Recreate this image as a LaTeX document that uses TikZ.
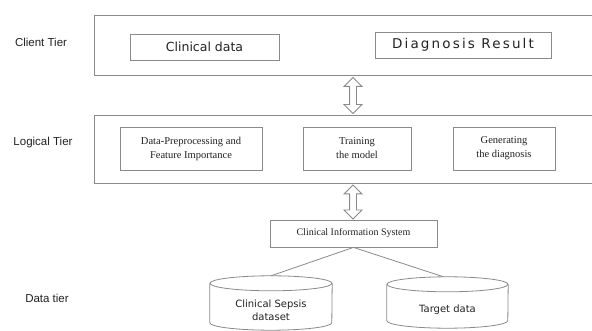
\documentclass[tikz,border=0pt]{standalone}
\usepackage{fontspec}
\setmainfont{Liberation Serif}
\newfontfamily\lab{Liberation Sans}
\newfontfamily\dv{DejaVu Sans}
\newfontfamily\dvsp[LetterSpace=16]{DejaVu Sans}
\usetikzlibrary{shapes.arrows}
\definecolor{ln}{HTML}{8A8A8A}
\definecolor{tx}{HTML}{222222}
\begin{document}
\begin{tikzpicture}[x=1pt,y=1pt,
  box/.style={draw=ln, line width=0.8pt, fill=white, inner sep=0pt, text=tx, align=center},
  tierlbl/.style={font=\lab\fontsize{11.5}{13}\selectfont, text=tx},
  serifbox/.style={box, font=\fontsize{10.5}{14}\selectfont},
  cylbody/.style={inner sep=0pt, text=tx, align=center, font=\dv\fontsize{10}{13}\selectfont},
  cylline/.style={draw=ln, line width=0.8pt},
  conn/.style={draw=ln, line width=0.8pt},
  dbl/.style={double arrow, draw=ln, line width=0.8pt, fill=white, inner sep=3pt,
    double arrow head extend=5.5pt, minimum height=36pt, shape border rotate=90}
]
\clip (0,0) rectangle (592,-331);
\fill[white] (0,0) rectangle (592,-331);

% tier labels
\node[tierlbl] (lclient) at (41,-42) {Client Tier};
\node[tierlbl] (llogic) at (43,-143) {Logical Tier};
\node[tierlbl] (ldata) at (47,-298) {Data tier};

% client tier
\node[box, minimum width=504pt, minimum height=60pt] (client) at (346,-45) {};
\node[box, minimum width=149pt, minimum height=26pt, font=\dv\fontsize{12.5}{14}\selectfont] (cdata) at (204.5,-47) {Clinical data};
\node[box, minimum width=176pt, minimum height=26pt, font=\dvsp\fontsize{13.5}{15}\selectfont] (diag) at (463,-45) {Diagnosis Result};

% logical tier
\node[box, minimum width=504pt, minimum height=68pt] (logic) at (346,-149) {};
\node[serifbox, minimum width=142pt, minimum height=43pt] (prep) at (191,-148.5) {Data-Preprocessing and\\Feature Importance};
\node[serifbox, minimum width=108pt, minimum height=43pt] (train) at (357,-148.5) {Training\\the model};
\node[serifbox, minimum width=102pt, minimum height=43pt] (gen) at (504,-148.5) {Generating\\the diagnosis};

% arrows between tiers
\node[dbl] (ar1) at (353,-95.5) {};
\node[dbl, minimum height=34pt] (ar2) at (353,-202) {};

% data tier
\node[box, minimum width=167pt, minimum height=27pt, font=\fontsize{10}{12}\selectfont] (cis) at (353.5,-233.5) {Clinical Information System};

\node[cylbody, minimum width=122pt, minimum height=39pt] (cyl1) at (271,-310.5) {Clinical Sepsis\\dataset};
\draw[cylline] ([yshift=7.5pt]cyl1.north) ellipse [x radius=61pt, y radius=7.5pt];
\draw[cylline] ([yshift=7.5pt]cyl1.north west) -- ([yshift=7.5pt]cyl1.south west)
  arc[start angle=180, end angle=360, x radius=61pt, y radius=7.5pt] -- ([yshift=7.5pt]cyl1.north east);

\node[cylbody, minimum width=121pt, minimum height=36pt] (cyl2) at (447.5,-310) {Target data};
\draw[cylline] ([yshift=7.5pt]cyl2.north) ellipse [x radius=60.5pt, y radius=7.5pt];
\draw[cylline] ([yshift=7.5pt]cyl2.north west) -- ([yshift=7.5pt]cyl2.south west)
  arc[start angle=180, end angle=360, x radius=60.5pt, y radius=7.5pt] -- ([yshift=7.5pt]cyl2.north east);

\draw[conn] (cis.south) -- ([yshift=15pt]cyl1.north);
\draw[conn] (cis.south) -- ([xshift=-4pt,yshift=15pt]cyl2.north);
\end{tikzpicture}
\end{document}
